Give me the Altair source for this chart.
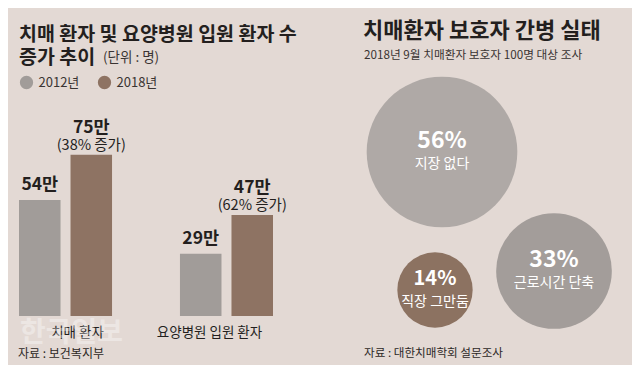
import altair as alt
import pandas as pd

# ---- data ----
categories = ["치매 환자", "요양병원 입원 환자"]
years = ["2012년", "2018년"]
patients_2012 = [54, 29]          # 단위: 만 명
patients_2018 = [75, 47]
increase_pct = [38, 62]

care_labels = ["지장 없다", "근로시간 단축", "직장 그만둠"]
care_pct = [56, 33, 14]

# ---- layout (bubble packing centres in px, not data) ----
bubble_cx = [434, 546, 427]
bubble_cy = [144, 263, 282]

W, H = 624, 357
FONT = "Noto Sans CJK KR"
BG = "#e3d9d4"
GRAY = "#a19c99"
BROWN = "#8e7363"
INK = "#231f1e"
BUBBLE_COLORS = ["#afa9a6", "#a39d9a", "#8c7261"]

rows = []
for i, c in enumerate(categories):
    rows.append(dict(category=c, year=years[0], value=patients_2012[i],
                     label=f"{patients_2012[i]}만", sub=""))
    rows.append(dict(category=c, year=years[1], value=patients_2018[i],
                     label=f"{patients_2018[i]}만", sub=f"({increase_pct[i]}% 증가)"))
bars_df = pd.DataFrame(rows)
cat_df = pd.DataFrame({"category": categories})
care_df = pd.DataFrame({"label": care_labels, "pct": care_pct,
                        "cx": bubble_cx, "cy": bubble_cy})

x_scale = alt.Scale(domain=categories, range=[11, 265], paddingInner=0.422, paddingOuter=0)
xo_scale = alt.Scale(domain=years, paddingInner=0.194, paddingOuter=0)
y_scale = alt.Scale(domain=[0, 100], range=[308, 93], nice=False)

X = alt.X("category:N", scale=x_scale, axis=None, sort=categories)
XO = alt.XOffset("year:N", scale=xo_scale, sort=years)
Y = alt.Y("value:Q", scale=y_scale, axis=None)

base = alt.Chart(bars_df)

bars = base.mark_bar(opacity=1).encode(
    X, XO, Y,
    color=alt.Color(
        "year:N",
        scale=alt.Scale(domain=years, range=[GRAY, BROWN]),
        legend=alt.Legend(
            orient="none", legendX=11.5, legendY=67.5, direction="horizontal",
            title=None, symbolType="circle", symbolSize=177, symbolStrokeWidth=0,
            symbolOpacity=1, labelFont=FONT, labelFontSize=13, labelColor="#3a3432",
            columnPadding=18, labelOffset=5, padding=0,
        ),
    ),
)

lbl_2012 = base.mark_text(font=FONT, fontWeight="bold", fontSize=17.5, color=INK,
                          baseline="middle", dy=-15).encode(
    X, XO, Y, text="label:N").transform_filter(alt.datum.year == years[0])
lbl_2018 = base.mark_text(font=FONT, fontWeight="bold", fontSize=17.5, color=INK,
                          baseline="middle", dy=-27).encode(
    X, XO, Y, text="label:N").transform_filter(alt.datum.year == years[1])
lbl_sub = base.mark_text(font=FONT, fontSize=14.5, color=INK,
                         baseline="middle", dy=-9).encode(
    X, XO, Y, text="sub:N").transform_filter(alt.datum.year == years[1])

cat_lbl_a = alt.Chart(cat_df).mark_text(font=FONT, fontSize=13.5, color=INK,
                                        baseline="middle", dx=-5).encode(
    X, y=alt.value(325), text="category:N").transform_filter(
    alt.datum.category == categories[0])
cat_lbl_b = alt.Chart(cat_df).mark_text(font=FONT, fontSize=13.5, color=INK,
                                        baseline="middle").encode(
    X, y=alt.value(325), text="category:N").transform_filter(
    alt.datum.category == categories[1])

# bubbles
BX = alt.X("cx:Q", scale=alt.Scale(domain=[0, W], range=[0, W], nice=False, zero=False), axis=None)
BY = alt.Y("cy:Q", scale=alt.Scale(domain=[0, H], range=[0, H], nice=False, zero=False), axis=None)
bubbles = alt.Chart(care_df).mark_circle(opacity=1).encode(
    BX, BY,
    size=alt.Size("pct:Q", scale=alt.Scale(domain=[0, 56], range=[0, 3.14159 * 85 ** 2], nice=False), legend=None),
    color=alt.Color("label:N", scale=alt.Scale(domain=care_labels, range=BUBBLE_COLORS), legend=None),
)
bub_pct = alt.Chart(care_df).transform_calculate(t="datum.pct + '%'").mark_text(
    font=FONT, fontWeight="bold", color="white", baseline="middle", dy=-11.5).encode(
    BX, BY, text="t:N",
    size=alt.condition(alt.datum.pct < 20, alt.value(20), alt.value(23)))
bub_lbl = alt.Chart(care_df).mark_text(
    font=FONT, fontSize=14, color="white", baseline="middle", dy=12).encode(
    BX, BY, text="label:N")


def txt(s, x, y, size, weight="normal", color=INK, **kw):
    return alt.Chart(pd.DataFrame({"t": [s]})).mark_text(
        font=FONT, fontSize=size, fontWeight=weight, color=color,
        align="left", baseline="middle", **kw).encode(
        text="t:N", x=alt.value(x), y=alt.value(y))


texts = [
    txt("한국일보", 12, 326, 28, "bold", color="#ffffff", opacity=0.35),
    txt("치매 환자 및 요양병원 입원 환자 수", 11, 27, 19.5, "bold"),
    txt("증가 추이", 11, 50, 19.5, "bold"),
    txt("(단위 : 명)", 95, 50, 13.5, color="#3a3432"),
    txt("자료 : 보건복지부", 10, 346, 12, color="#2d2826"),
    txt("치매환자 보호자 간병 실태", 355, 23, 22, "bold"),
    txt("2018년 9월 치매환자 보호자 100명 대상 조사", 356, 47, 11.7, color="#3a3432"),
    txt("자료 : 대한치매학회 설문조사", 356, 346, 11.6, color="#2d2826"),
]

chart = alt.layer(
    bars, lbl_2012, lbl_2018, lbl_sub, cat_lbl_a, cat_lbl_b,
    bubbles, bub_pct, bub_lbl, *texts
).resolve_scale(
    x="independent", y="independent", color="independent", size="independent"
).properties(
    width=W, height=H, background=BG, padding=0,
    autosize=alt.AutoSizeParams(type="none"),
).configure_view(stroke=None)

chart.save("out.html", embed_options={"renderer": "svg", "actions": False})
